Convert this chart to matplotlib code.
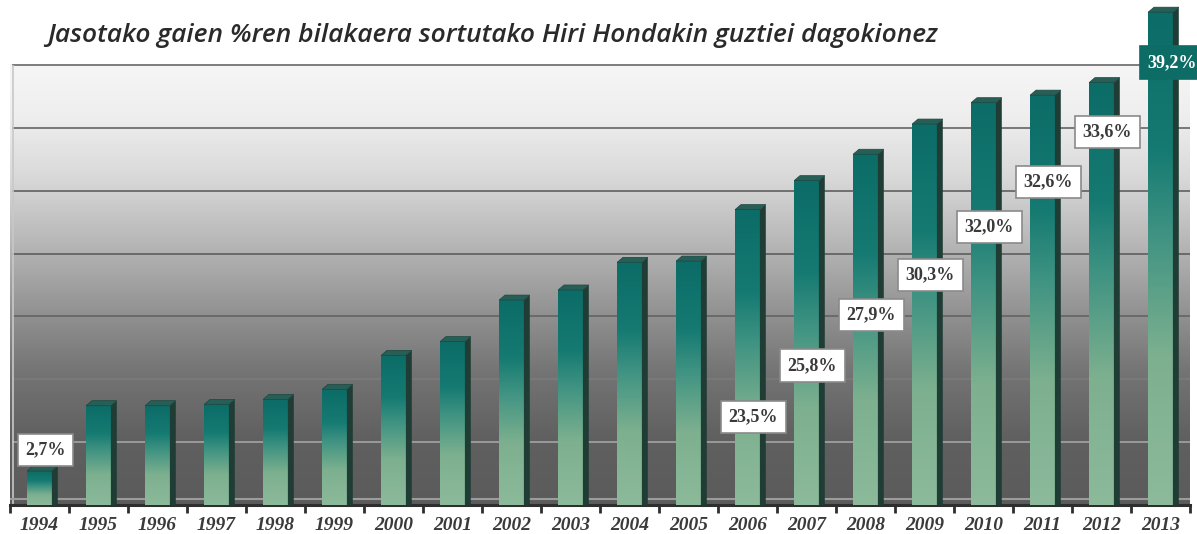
import numpy as np
import matplotlib
matplotlib.use("Agg")
import matplotlib.pyplot as plt
from matplotlib.colors import LinearSegmentedColormap
from matplotlib.patches import Polygon

# data
years = ['1994', '1995', '1996', '1997', '1998', '1999', '2000', '2001', '2002', '2003',
         '2004', '2005', '2006', '2007', '2008', '2009', '2010', '2011', '2012', '2013']
values = [2.7, 7.9, 7.9, 8.0, 8.4, 9.2, 11.9, 13.0, 16.3, 17.1,
          19.3, 19.4, 23.5, 25.8, 27.9, 30.3, 32.0, 32.6, 33.6, 39.2]
labelled_years = ['1994', '2006', '2007', '2008', '2009', '2010', '2011', '2012', '2013']
label_texts = ['2,7%', '23,5%', '25,8%', '27,9%', '30,3%', '32,0%', '32,6%', '33,6%', '39,2%']

# where the value boxes sit (layout, in axis units)
label_y = [4.4, 7.0, 11.1, 15.1, 18.3, 22.1, 25.7, 29.7, 35.2]

title = 'Jasotako gaien %ren bilakaera sortutako Hiri Hondakin guztiei dagokionez'

fig = plt.figure(figsize=(11.97, 5.34), dpi=100)
ax = fig.add_axes([10 / 1197, 29 / 534, 1180 / 1197, 505 / 534])
ax.set_xlim(-0.5, len(years) - 0.5)
ax.set_ylim(0, 40.17)
wall_top = 35

# back wall gradient
wall_cmap = LinearSegmentedColormap.from_list('wall', [
    (0.0, '#5b5b5b'), (0.15, '#606060'), (0.3, '#747474'), (0.45, '#959595'),
    (0.6, '#b8b8b8'), (0.75, '#dadada'), (0.88, '#eeeeee'), (1.0, '#f6f6f6')])
grad = np.linspace(0, 1, 256).reshape(-1, 1)
ax.imshow(grad, cmap=wall_cmap, origin='lower', aspect='auto',
          extent=[-0.5, len(years) - 0.5, 0, wall_top], zorder=0)

# grid lines
grid_levels = [5, 10, 15, 20, 25, 30, 35]
grid_colors = ['#9a9a9a', '#7a7a7a', '#6a6a6a', '#6a6a6a', '#707070', '#777777', '#7d7d7d']
for g, c in zip(grid_levels, grid_colors):
    ax.hlines(g, -0.47, len(years) - 0.5, color=c, lw=1.4, zorder=1)
ax.vlines(-0.45, 0, wall_top, color='#c8c8c8', lw=1.2, zorder=1)
ax.hlines(0.45, -0.5, len(years) - 0.5, color='#9c9c9c', lw=1.5, zorder=1)

# bars with a fake 3d look
bar_cmap = LinearSegmentedColormap.from_list('bar', [
    (0.0, '#8cba9b'), (0.3, '#7db08f'), (0.55, '#3f9382'), (0.72, '#157a72'), (1.0, '#0c6c67')])
w = 0.42
dx, dy = 0.1, 0.4
x = np.arange(len(years))
for xi, v in zip(x, values):
    ax.imshow(grad, cmap=bar_cmap, origin='lower', aspect='auto',
              extent=[xi - w / 2, xi + w / 2, 0, v], zorder=3)
    side = Polygon([(xi + w / 2, 0), (xi + w / 2 + dx, 0), (xi + w / 2 + dx, v + dy), (xi + w / 2, v)],
                   closed=True, fc='#1f3c35', ec='none', zorder=3)
    top = Polygon([(xi - w / 2, v), (xi - w / 2 + dx, v + dy), (xi + w / 2 + dx, v + dy), (xi + w / 2, v)],
                  closed=True, fc='#275e55', ec='#1c4740', lw=0.5, zorder=3)
    ax.add_patch(side)
    ax.add_patch(top)

# value boxes
for yr, txt, ly in zip(labelled_years, label_texts, label_y):
    i = years.index(yr)
    last = yr == years[-1]
    ax.text(i + (0.2 if last else 0.1), ly, txt, ha='center', va='center', fontsize=13,
            fontweight='bold', family='Liberation Serif',
            color='white' if last else '#3a3a3a', zorder=5,
            bbox=dict(boxstyle='square,pad=0.42', fc='#0e6c67' if last else 'white',
                      ec='#0e6c67' if last else '#8a8a8a', lw=1.2), clip_on=False)

# axis line, ticks and year labels
for s in ['top', 'right', 'left']:
    ax.spines[s].set_visible(False)
ax.spines['bottom'].set_color('#2e2e2e')
ax.spines['bottom'].set_linewidth(2.2)
ax.set_yticks([])
ax.set_xticks(np.arange(len(years) + 1) - 0.5)
ax.set_xticklabels([])
ax.tick_params(axis='x', direction='out', length=6, width=2, color='#2e2e2e')
for xi, yr in zip(x, years):
    ax.text(xi, -1.95, yr, ha='center', va='baseline', fontsize=14, fontweight='bold',
            style='italic', family='Liberation Serif', color='#3a3a3a', clip_on=False)

fig.text(47 / 1197, 1 - 36 / 534, title, ha='left', va='center', fontsize=19,
         style='italic', fontweight='semibold', family='Open Sans', color='#2a2a2a')

fig.savefig('out.png', dpi=100)
